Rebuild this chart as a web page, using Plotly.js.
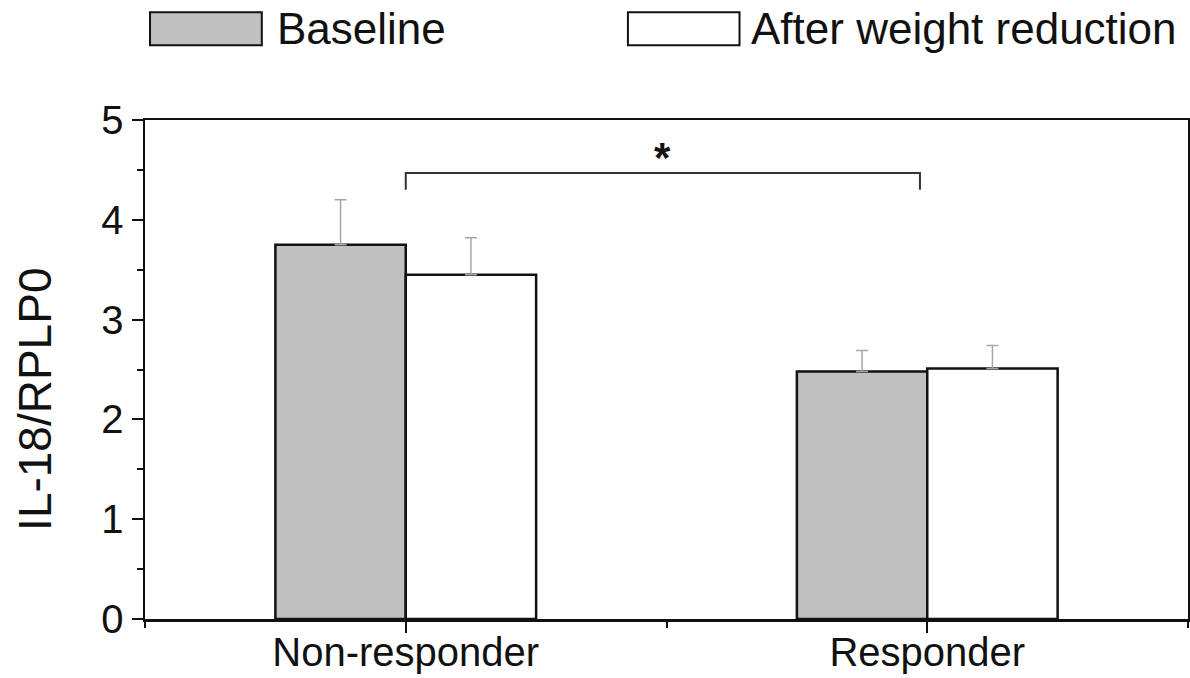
<!DOCTYPE html>
<html>
<head>
<meta charset="utf-8">
<script src="https://cdn.plot.ly/plotly-3.0.1.min.js"></script>
<style>html,body{margin:0;padding:0;background:#fff;}#chart{width:1190px;height:678px;}</style>
</head>
<body>
<div id="chart"></div>
<script>
var categories = ["Non-responder", "Responder"];
var seriesNames = ["Baseline", "After weight reduction"];
var baselineValues = [3.75, 2.48];
var baselineErrors = [0.45, 0.21];
var afterValues = [3.45, 2.51];
var afterErrors = [0.37, 0.23];
var yTickVals = [0, 1, 2, 3, 4, 5];
var yTitle = "IL-18/RPLP0";
var bracketLevel = 4.47;
var bracketDrop = 4.30;
var bracketEnds = [0, 0.986];
var sigLabel = "*";

var xIdx = categories.map(function(c, i){ return i; });
var FONT = "Liberation Sans, Arial, Helvetica, sans-serif";

var errStyle = {type: "data", symmetric: false, color: "#a6a6a6", thickness: 1.5, width: 6};

var traces = [
  {
    type: "bar", name: seriesNames[0], x: xIdx, y: baselineValues,
    marker: {color: "#c0c0c0", line: {color: "#111", width: 2.5}},
    error_y: Object.assign({array: baselineErrors, arrayminus: baselineErrors.map(function(){return 0;})}, errStyle),
    showlegend: false
  },
  {
    type: "bar", name: seriesNames[1], x: xIdx, y: afterValues,
    marker: {color: "#ffffff", line: {color: "#111", width: 2.5}},
    error_y: Object.assign({array: afterErrors, arrayminus: afterErrors.map(function(){return 0;})}, errStyle),
    showlegend: false
  }
];

var layout = {
  width: 1190, height: 678,
  margin: {l: 145, r: 2, t: 120, b: 59},
  paper_bgcolor: "#ffffff", plot_bgcolor: "#ffffff",
  barmode: "group", bargap: 0.5, bargroupgap: 0,
  font: {family: FONT, color: "#111", size: 40},
  xaxis: {
    range: [-0.5, 1.5], tickmode: "array", tickvals: xIdx, ticktext: categories,
    showline: true, linecolor: "#111", linewidth: 2.5, mirror: true,
    ticks: "outside", ticklen: 11, tickwidth: 2, tickcolor: "#111",
    minor: {tickmode: "array", tickvals: [-0.5, 0.5, 1.5], ticks: "outside", ticklen: 6, tickwidth: 2, tickcolor: "#111"},
    showgrid: false, zeroline: false, fixedrange: true,
    ticklabelstandoff: -15,
    tickfont: {family: FONT, size: 40, color: "#111"}
  },
  yaxis: {
    range: [0, 5], tickmode: "array", tickvals: yTickVals,
    showline: true, linecolor: "#111", linewidth: 2.5, mirror: true,
    ticks: "outside", ticklen: 11, tickwidth: 2, tickcolor: "#111",
    minor: {dtick: 0.5, ticks: "outside", ticklen: 6, tickwidth: 2, tickcolor: "#111"},
    showgrid: false, zeroline: false, fixedrange: true,
    tickfont: {family: FONT, size: 40, color: "#111"}
  },
  shapes: [
    {type: "path", xref: "x", yref: "y",
     path: "M " + bracketEnds[0] + "," + bracketDrop + " L " + bracketEnds[0] + "," + bracketLevel +
           " L " + bracketEnds[1] + "," + bracketLevel + " L " + bracketEnds[1] + "," + bracketDrop,
     line: {color: "#333", width: 2}},
    {type: "rect", xref: "paper", yref: "paper", x0: 0.0048, x1: 0.112, y0: 1.150, y1: 1.216,
     fillcolor: "#c0c0c0", line: {color: "#111", width: 2}},
    {type: "rect", xref: "paper", yref: "paper", x0: 0.463, x1: 0.570, y0: 1.150, y1: 1.216,
     fillcolor: "#ffffff", line: {color: "#111", width: 2}}
  ],
  annotations: [
    {xref: "x", yref: "y", x: (bracketEnds[0] + bracketEnds[1]) / 2, y: bracketLevel, text: "<b>" + sigLabel + "</b>",
     showarrow: false, yanchor: "bottom", yshift: -10, font: {family: FONT, size: 42, color: "#111"}},
    {xref: "paper", yref: "paper", x: -0.1055, y: 0.441, xanchor: "center", yanchor: "middle", showarrow: false,
     textangle: -90, text: yTitle, font: {family: FONT, size: 46, color: "#111"}},
    {xref: "paper", yref: "paper", x: 0.125, y: 1.183, xanchor: "left", yanchor: "middle", showarrow: false,
     text: seriesNames[0], font: {family: FONT, size: 44, color: "#111"}},
    {xref: "paper", yref: "paper", x: 0.579, y: 1.183, xanchor: "left", yanchor: "middle", showarrow: false,
     text: seriesNames[1], font: {family: FONT, size: 44, color: "#111"}}
  ]
};

Plotly.newPlot("chart", traces, layout, {displayModeBar: false, staticPlot: true});
</script>
</body>
</html>
